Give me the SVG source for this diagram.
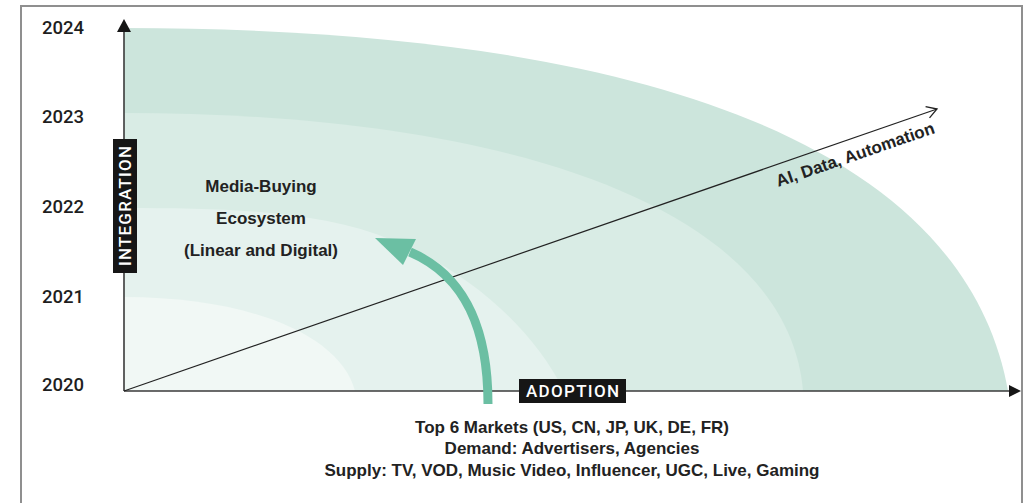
<svg xmlns="http://www.w3.org/2000/svg" width="1033" height="503" viewBox="0 0 1033 503">
  <style>
    .year { font-family: Roboto, "Liberation Sans", sans-serif; font-weight: 500; font-size: 18.5px; fill: #1e1e1e; }
    .body { font-family: "Liberation Sans", Arial, sans-serif; font-weight: bold; font-size: 17px; fill: #222; }
    .tag { font-family: Roboto, "Liberation Sans", sans-serif; font-weight: 500; font-size: 17px; fill: #fff; }
    .tag-box { fill: #161616; }
    .axis { stroke: #3a3a3a; stroke-width: 1.6; fill: none; }
    .axis-head { fill: #161616; }
    .trend { stroke: #222; stroke-width: 1.2; fill: none; }
    .growth { stroke: #6bbfa3; stroke-width: 9; fill: none; }
  </style>
  <defs>
    <marker id="open-arrow" viewBox="-12 -8 14 16" refX="0" refY="0" markerWidth="14" markerHeight="16" markerUnits="userSpaceOnUse" orient="auto">
      <path d="M-10,-6 L0,0 L-10,6" fill="none" stroke="#222" stroke-width="1.3"/>
    </marker>
  </defs>

  <!-- page frame -->
  <rect x="21" y="6" width="1001" height="520" fill="#fff" stroke="#8f8f8f" stroke-width="2"/>

  <!-- nested growth bands, outermost first -->
  <g id="bands">
    <path d="M124,391 L124,28 C654,28 965,150 1008,391 Z" fill="#cce5dc"/>
    <path d="M124,391 L124,113 C520,113 788,212 803,391 Z" fill="#d9ece5"/>
    <path d="M124,391 L124,208 C234,208 320.8,211.2 392,240 C463,269 529,322 564,391 Z" fill="#e5f2ee"/>
    <path d="M124,391 L124,297 C250,297 340,335 355,391 Z" fill="#f1f8f5"/>
  </g>

  <!-- axes -->
  <g id="axes">
    <line class="axis" x1="124" y1="391" x2="124" y2="30"/>
    <polygon class="axis-head" points="124,19 117,32 131,32"/>
    <line class="axis" x1="124" y1="391" x2="1010" y2="391"/>
    <polygon class="axis-head" points="1021,391 1009,385 1009,397"/>
  </g>

  <!-- year scale -->
  <g id="years">
    <text class="year" x="42" y="34">2024</text>
    <text class="year" x="42" y="123">2023</text>
    <text class="year" x="42" y="213">2022</text>
    <text class="year" x="42" y="303">2021</text>
    <text class="year" x="42" y="391">2020</text>
  </g>

  <g id="connectors">
    <!-- AI / data / automation trend line -->
    <line class="trend" x1="124" y1="391" x2="937" y2="109" marker-end="url(#open-arrow)"/>
    <!-- adoption growth arrow -->
    <path class="growth" d="M488,404 C488,330 466,276 410,252"/>
    <polygon points="375,238 416,239 403,265" fill="#6bbfa3"/>
  </g>

  <g id="label-integration">
    <rect class="tag-box" x="113" y="139" width="24" height="134"/>
    <text class="tag" transform="translate(131,206) rotate(-90)" text-anchor="middle" textLength="120" lengthAdjust="spacing">INTEGRATION</text>
  </g>

  <g id="label-adoption">
    <rect class="tag-box" x="519" y="379" width="107" height="24"/>
    <text class="tag" x="526" y="397" textLength="93" lengthAdjust="spacing">ADOPTION</text>
  </g>

  <g id="node-media-buying">
    <text class="body" x="261" y="192" text-anchor="middle">Media-Buying</text>
    <text class="body" x="261" y="224" text-anchor="middle">Ecosystem</text>
    <text class="body" x="261" y="256" text-anchor="middle">(Linear and Digital)</text>
  </g>

  <g id="label-ai">
    <text class="body" transform="translate(857,160) rotate(-19)" text-anchor="middle">AI, Data, Automation</text>
  </g>

  <g id="markets">
    <text class="body" x="572" y="433" text-anchor="middle" font-size="16.8">Top 6 Markets (US, CN, JP, UK, DE, FR)</text>
    <text class="body" x="572" y="454" text-anchor="middle" font-size="16.8">Demand: Advertisers, Agencies</text>
    <text class="body" x="572" y="476" text-anchor="middle" font-size="16.8">Supply: TV, VOD, Music Video, Influencer, UGC, Live, Gaming</text>
  </g>
</svg>
